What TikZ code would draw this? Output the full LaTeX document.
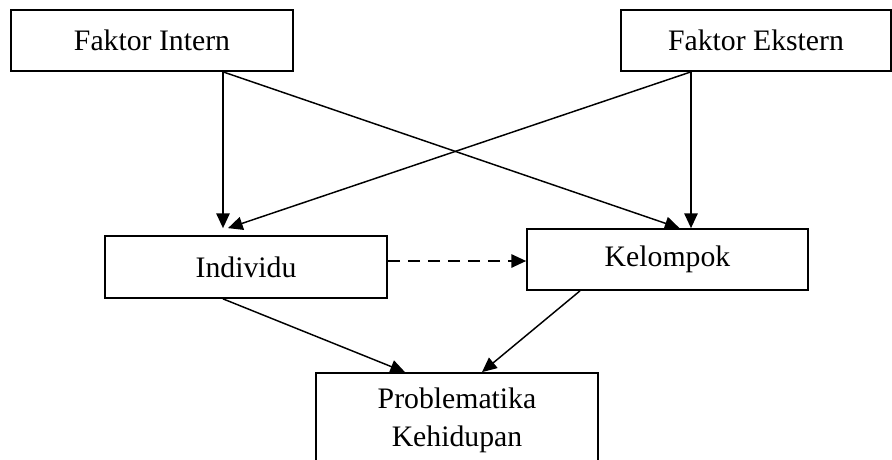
\documentclass[tikz,border=0pt]{standalone}
\usepackage{fontspec}
\setmainfont{Liberation Serif}
\usetikzlibrary{arrows.meta,calc}
\begin{document}
\begin{tikzpicture}[x=0.75pt,y=-0.75pt,
  box/.style={draw,line width=1.3pt,inner sep=0pt,align=center,
    font=\fontsize{22.3}{28.5}\selectfont},
  conn/.style={line width=1.1pt,-{Triangle[length=11pt,width=10pt]}},
  dashconn/.style={conn,dash pattern=on 9pt off 6pt}]
\clip (0,0) rectangle (892,460);
\fill[white] (0,0) rectangle (892,460);
\node[box,minimum width=211.5pt,minimum height=45.75pt] (fi) at (152,40.5) {Faktor Intern};
\node[box,minimum width=202.5pt,minimum height=45.75pt] (fe) at (756,40.5) {Faktor Ekstern};
\node[box,minimum width=211.5pt,minimum height=46.5pt] (ind) at (246,267) {Individu};
\node[box,minimum width=210.75pt,minimum height=45.75pt] (kel) at (667.5,259.5) {Kelompok};
\node[box,minimum width=211.5pt,minimum height=71.25pt] (prob) at (457,420.5) {Problematika\\Kehidupan};
\draw[conn] ($(fi.south)+(71,0)$) -- ($(ind.north)+(-23,-7)$);
\draw[conn] ($(fi.south)+(71,0)$) -- ($(kel.north)+(12,0)$);
\draw[conn] ($(fe.south)+(-65,0)$) -- ($(kel.north)+(23.5,0)$);
\draw[conn] ($(fe.south)+(-65,0)$) -- ($(ind.north)+(-18,-7)$);
\draw[dashconn] ($(ind.east)+(0,-6)$) -- ($(kel.west)+(0,1.5)$);
\draw[conn] ($(ind.south)+(-23,0)$) -- ($(prob.north)+(-52,0)$);
\draw[conn] ($(kel.south)+(-87.5,0)$) -- ($(prob.north)+(25,0)$);
\end{tikzpicture}
\end{document}
